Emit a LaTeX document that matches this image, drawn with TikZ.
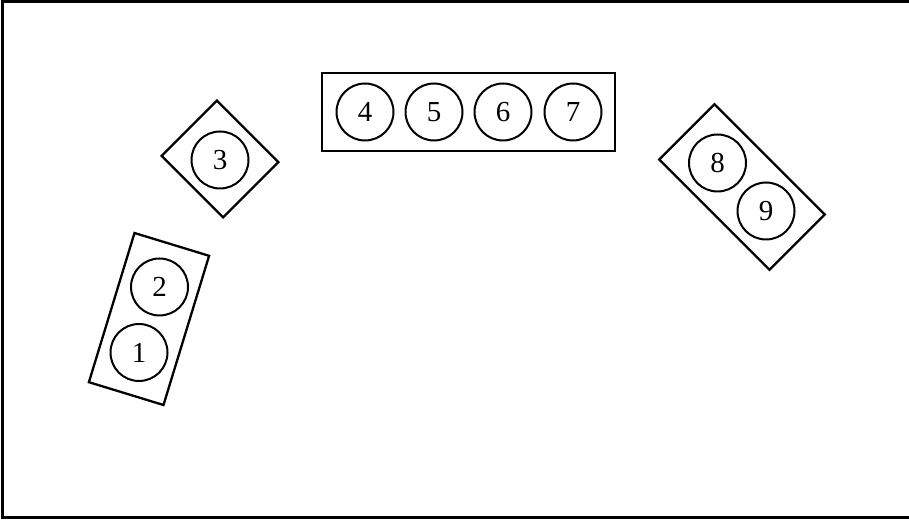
\documentclass[tikz,border=0pt]{standalone}
\usepackage{fontspec}
\setmainfont{Liberation Serif}
\begin{document}
\begin{tikzpicture}[x=1pt,y=1pt,
  tray/.style={draw,line width=2.3pt,rectangle,inner sep=0pt,minimum height=78pt},
  seat/.style={draw,line width=2pt,circle,inner sep=0pt,minimum size=57pt,font=\fontsize{29}{29}\selectfont}]
\useasboundingbox (0,0) rectangle (909,521);
\draw[line width=3pt] (2,3) rectangle (912,519);
% group 1-2
\node[tray,minimum width=78pt,minimum height=156pt,rotate=-17] (g12) at (149,202) {};
\node[seat] (s2) at (159.5,234) {2};
\node[seat] (s1) at (139,168.5) {1};
% group 3
\node[tray,minimum width=87pt,rotate=-45] (g3) at (220,362) {};
\node[seat] (s3) at (220,361) {3};
% group 4-7
\node[tray,minimum width=293pt] (g47) at (468.5,409) {};
\node[seat] (s4) at (365,409) {4};
\node[seat] (s5) at (434,409) {5};
\node[seat] (s6) at (503,409) {6};
\node[seat] (s7) at (573,409) {7};
% group 8-9
\node[tray,minimum width=156pt,rotate=-45] (g89) at (742,334) {};
\node[seat] (s8) at (717.5,358) {8};
\node[seat] (s9) at (766,310) {9};
\end{tikzpicture}
\end{document}
